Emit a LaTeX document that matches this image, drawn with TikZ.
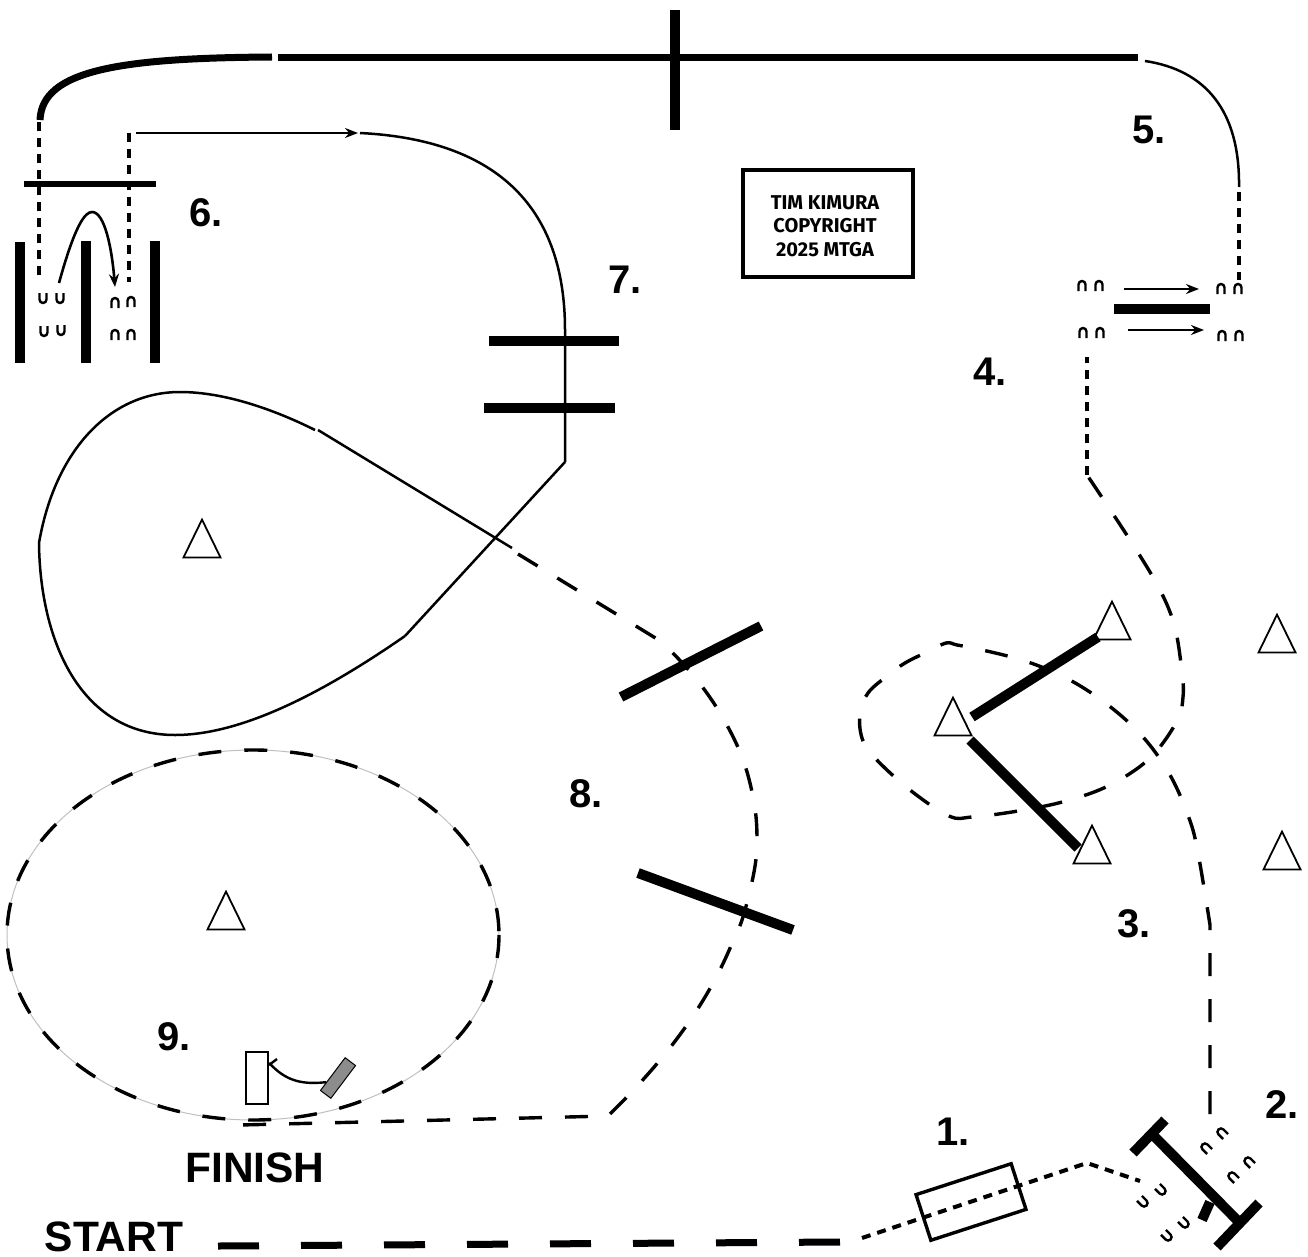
\documentclass[tikz,border=0pt]{standalone}
\usepackage{fontspec}
\setmainfont{Liberation Sans}
\newfontfamily\stampfont{Fira Sans}
\usetikzlibrary{arrows.meta,calc,shapes.geometric}
\tikzset{
	thinline/.style={line width=2.5pt},
	barline/.style={line width=10pt},
	wingline/.style={line width=10pt},
	dotline/.style={line width=4pt,dash pattern=on 9pt off 7pt},
	dashline/.style={line width=3.4pt,dash pattern=on 23pt off 23pt},
	flow/.style={line width=2.6pt,-{Stealth[length=13pt,width=10pt]}},
	cone/.style={isosceles triangle,isosceles triangle apex angle=52,shape border rotate=90,draw,line width=1.8pt,minimum height=38pt,inner sep=0pt,anchor=center},
	nr/.style={inner sep=0pt,font=\fontsize{40}{40}\selectfont\bfseries},
	word/.style={inner sep=0pt,font=\fontsize{42.5}{42.5}\selectfont\bfseries},
	hoof/.pic={\draw[line width=2.4pt] (-3.5,5) -- (-3.5,-1.5) arc (180:360:3.5) -- (3.5,5);}
}
\begin{document}
\begin{tikzpicture}[x=1pt,y=-1pt]
	\useasboundingbox (0,0) rectangle (1308,1257);
	% top straight
	\coordinate (topA) at (40,120);
	\coordinate (topB) at (272,57);
	\coordinate (topC) at (278,58);
	\coordinate (topD) at (1138,58);
	\coordinate (topE) at (1145,61);
	\coordinate (topF) at (1239,187);
	\draw[line width=7pt] (topA) .. controls (42,70) and (120,58) .. (topB);
	\draw[line width=7pt] (topC) -- (topD);
	\draw[line width=10pt] (675,10) -- (675,130);
	\draw[thinline] (topE) .. controls (1205,70) and (1240,110) .. (topF);
	\draw[dotline] (topF) ++(0,5) -- (1239,280);
	% obstacle 4
	\foreach \x/\y in {1082/286,1099/286,1221/289,1238/289,1083/333,1100/333,1222/336,1239/336}
		\pic at (\x,\y) {hoof};
	\draw[barline] (1114,309) -- (1210,309);
	\draw[flow] (1124,289) -- (1199,289);
	\draw[flow] (1128,330) -- (1204,330);
	% obstacle 6
	\draw[barline] (20,242) -- (20,363);
	\draw[barline] (86,241) -- (86,363);
	\draw[barline] (155,241) -- (155,363);
	\draw[dotline] (39,122) -- (39,278);
	\draw[dotline] (129,133) -- (129,282);
	\draw[line width=6pt] (24,184) -- (156,184);
	\foreach \x/\y in {43/298,60/298,44/331,61/330}
		\pic[rotate=180] at (\x,\y) {hoof};
	\foreach \x/\y in {115/303,131/302,115/335,131/335}
		\pic at (\x,\y) {hoof};
	\draw[flow] (59,283) .. controls (75,225) and (85,212) .. (92,212) .. controls (105,212) and (112,250) .. (115,287);
	\draw[flow] (136,133) -- (358,133);
	% loop after 6
	\coordinate (bendA) at (360,133);
	\coordinate (bendB) at (565,462);
	\coordinate (dropA) at (405,636);
	\coordinate (dropB) at (318,430);
	\coordinate (dropC) at (512,548);
	\draw[thinline] (bendA) .. controls (500,140) and (565,210) .. (565,330) -- (bendB);
	\draw[barline] (489,341) -- (619,341);
	\draw[barline] (484,408) -- (615,408);
	\draw[thinline] (bendB) -- (dropA);
	\draw[thinline] (dropA) .. controls (320,695) and (240,735) .. (175,735) .. controls (80,735) and (40,640) .. (39,543) .. controls (55,450) and (110,392) .. (180,392) .. controls (225,392) and (275,410) .. (315,430);
	\draw[thinline] (dropB) -- (dropC);
	% long dashed run to the finish
	\draw[dashline] (518,554) -- (662,642) -- plot[smooth,tension=0.6] coordinates {(662,642) (693,675) (720,713) (742,757) (754,802) (757,840) (754,872) (743,917) (733,941)} .. controls (705,1010) and (660,1065) .. (608,1116) -- (240,1125);
	\draw[wingline] (621,697) -- (761,626);
	\draw[wingline] (638,873) -- (793,930);
	% finish circle
	\draw[gray!50,line width=1pt] (253,935) ellipse (246 and 185);
	\draw[dashline] (253,935) ++(246,0) arc (0:360:246 and 185);
	\node[draw,line width=2.4pt,fill=white,minimum width=22pt,minimum height=52pt,inner sep=0pt] (post) at (257,1078) {};
	\node[draw,line width=1pt,fill=black!45,minimum width=41pt,minimum height=13pt,inner sep=0pt,rotate=53] (mat) at (338,1078) {};
	\draw[line width=2.4pt] ($(mat.north)!0.5!(mat.north west)$) .. controls (300,1085) and (285,1080) .. (post.east |- 0,1063);
	\draw[line width=2.4pt] (277,1059) -- (269,1065);
	% course through 3
	\coordinate (runA) at (1210,1114);
	\coordinate (runB) at (1087,475);
	\draw[dashline] (runA) -- (1210,925) -- plot[smooth,tension=0.6] coordinates {(1210,925) (1198,853) (1189,818) (1170,775) (1143,737) (1108,705) (1068,679) (1025,661) (978,649) (957,645) (946,643) (927,652) (905,663) (887,676) (868,693) (860,713) (862,738) (875,758) (910,790) (949,816) (972,817) (1018,811) (1066,801) (1110,785) (1150,758) (1177,721) (1183,697) (1182,673) (1175,628) (1160,590) (1130,540) (1087,475)};
	\draw[dotline] (runB) -- (1087,357);
	\draw[wingline] (972,717) -- (1098,637);
	\draw[wingline] (970,740) -- (1078,848);
	% cones
	\foreach \x/\y [count=\i] in {202/546,226/918,1112/628,953/724,1092/852,1277/641,1282/858}
		\node[cone] (cone\i) at (\x,\y) {};
	% start
	\draw[line width=7pt,dash pattern=on 41pt off 42pt] (218,1246) -- (840,1242);
	\coordinate (dotA) at (862,1238);
	\coordinate (dotB) at (1087,1163);
	\coordinate (dotC) at (1140,1181);
	\node[draw,line width=3.4pt,minimum width=100pt,minimum height=48pt,inner sep=0pt,rotate=18] (tube) at (971,1202) {};
	\draw[dotline] (dotA) -- (dotB) -- (dotC);
	% obstacle 2
	\draw[barline] (1149,1131) -- (1237,1220);
	\draw[barline] (1165,1120) -- (1133,1153);
	\draw[barline] (1259,1203) -- (1217,1247);
	\draw[barline] (1210,1202) -- (1202,1220);
	\foreach \x/\y in {1222/1133,1206/1148,1249/1162,1233/1177}
		\pic[rotate=45] at (\x,\y) {hoof};
	\foreach \x/\y in {1161/1190,1143/1202,1184/1223,1167/1236}
		\pic[rotate=225] at (\x,\y) {hoof};
	% box
	\node[draw,line width=3.4pt,minimum width=170pt,minimum height=107pt,inner sep=0pt] (stamp) at (828,223.5) {};
	\node[align=center,inner sep=0pt,font=\stampfont\bfseries\fontsize{20}{23.5}\selectfont] (stamptext) at (825,226) {TIM KIMURA\\COPYRIGHT\\2025 MTGA};
	% labels
	\node[nr] (n1) at (953,1132) {1.};
	\node[nr] (n2) at (1282,1105) {2.};
	\node[nr] (n3) at (1134,924) {3.};
	\node[nr] (n4) at (990,372) {4.};
	\node[nr] (n5) at (1149,130) {5.};
	\node[nr] (n6) at (206,213) {6.};
	\node[nr] (n7) at (625,280) {7.};
	\node[nr] (n8) at (586,794) {8.};
	\node[nr] (n9) at (174,1037) {9.};
	\node[word] (finish) at (255,1168) {FINISH};
	\node[word] (start) at (114,1237) {START};
\end{tikzpicture}
\end{document}
